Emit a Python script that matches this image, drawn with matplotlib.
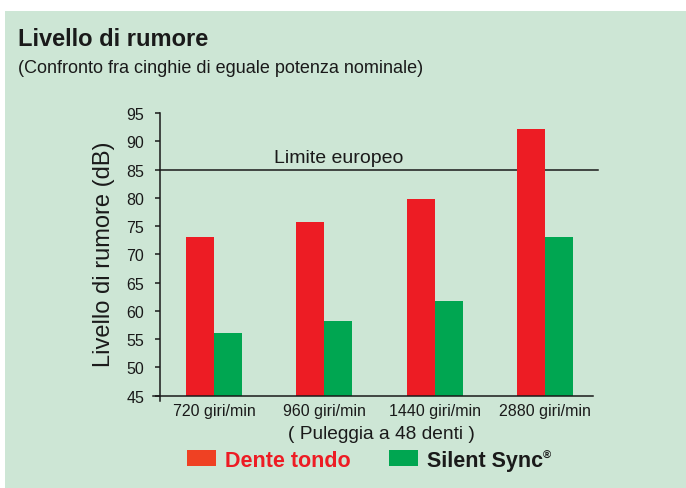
import matplotlib
matplotlib.use('Agg')
import matplotlib.pyplot as plt
from matplotlib.patches import Rectangle

# data
speeds = ['720 giri/min', '960 giri/min', '1440 giri/min', '2880 giri/min']
dente_tondo = [73, 75.8, 79.8, 92.2]
silent_sync = [56, 58.2, 61.8, 73]
limite_europeo = 85
yticks = [45, 50, 55, 60, 65, 70, 75, 80, 85, 90, 95]
series_names = ['Dente tondo', 'Silent Sync']

bg = '#cde6d5'
red = '#ed1c24'
red_patch = '#ef4123'
green = '#00a651'
ink = '#1a1a1a'

plt.rcParams['font.family'] = ['Liberation Sans', 'DejaVu Sans']

W, H = 686, 489


def fx(px):
    return px / W


def fy(py):
    return 1 - py / H


fig = plt.figure(figsize=(W / 100, H / 100), dpi=100)
fig.patch.set_facecolor('white')
fig.add_artist(Rectangle((fx(5), 0), 1 - fx(5), fy(12), transform=fig.transFigure,
                         facecolor=bg, edgecolor='none', zorder=0))

ax = fig.add_axes([fx(153), fy(402), fx(593) - fx(153), fy(114) - fy(402)])
ax.set_facecolor('none')

unit = 110.33  # px per category
ax.set_xlim((153 - 214) / unit, (593 - 214) / unit)
ax.set_ylim(44.05, 95)

w = 28 / unit
x = list(range(len(speeds)))
ax.bar([i - w for i in x], [v - 45 for v in dente_tondo], w, bottom=45,
       align='edge', color=red, zorder=3)
ax.bar(x, [v - 45 for v in silent_sync], w, bottom=45,
       align='edge', color=green, zorder=3)

# limit line (behind the bars)
ax.axhline(limite_europeo, xmin=(160 - 153) / 440, xmax=(598 - 153) / 440,
           color=ink, lw=1.1, zorder=2, clip_on=False)
ax.text((338.5 - 214) / unit, limite_europeo + 1.4, 'Limite europeo',
        ha='center', va='baseline', fontsize=14, color=ink)

for s in ['top', 'right']:
    ax.spines[s].set_visible(False)
ax.spines['left'].set_position(('data', (160 - 214) / unit))
ax.spines['bottom'].set_position(('data', 45))
for s in ['left', 'bottom']:
    ax.spines[s].set_linewidth(1.1)
    ax.spines[s].set_color(ink)
    ax.spines[s].set_zorder(4)

ax.set_yticks(yticks)
ax.tick_params(axis='y', direction='out', length=3.5, width=1.1, pad=8,
               labelsize=11.5, colors=ink)
ax.set_xticks(x)
ax.set_xticklabels(speeds)
ax.tick_params(axis='x', length=0, pad=5, labelsize=11.5, colors=ink)

# titles
fig.text(fx(18), fy(46), 'Livello di rumore', fontsize=17, fontweight='bold',
         color=ink, va='baseline', ha='left')
fig.text(fx(18), fy(73), '(Confronto fra cinghie di eguale potenza nominale)',
         fontsize=13, color=ink, va='baseline', ha='left')
fig.text(fx(104), fy(254), 'Livello di rumore (dB)', rotation=90, fontsize=17,
         color=ink, ha='center', va='center')
fig.text(fx(381), fy(435), '( Puleggia a 48 denti )', fontsize=13.8,
         color=ink, ha='center', va='center')

# legend
fig.add_artist(Rectangle((fx(187), fy(467)), fx(29), 16 / H, transform=fig.transFigure,
                         facecolor=red_patch, edgecolor='none'))
fig.text(fx(225), fy(466.7), series_names[0], fontsize=15.5, fontweight='bold',
         color=red, va='baseline', ha='left')
fig.add_artist(Rectangle((fx(389), fy(467)), fx(29), 16 / H, transform=fig.transFigure,
                         facecolor=green, edgecolor='none'))
t = fig.text(fx(427), fy(466.7), series_names[1], fontsize=15.5, fontweight='bold',
             color=ink, va='baseline', ha='left')
ax.annotate('®', xy=(1.0, 0.98), xycoords=t, fontsize=8, fontweight='bold',
            color=ink, ha='left', va='top', annotation_clip=False)

fig.savefig('out.png', dpi=100, facecolor=fig.get_facecolor())
